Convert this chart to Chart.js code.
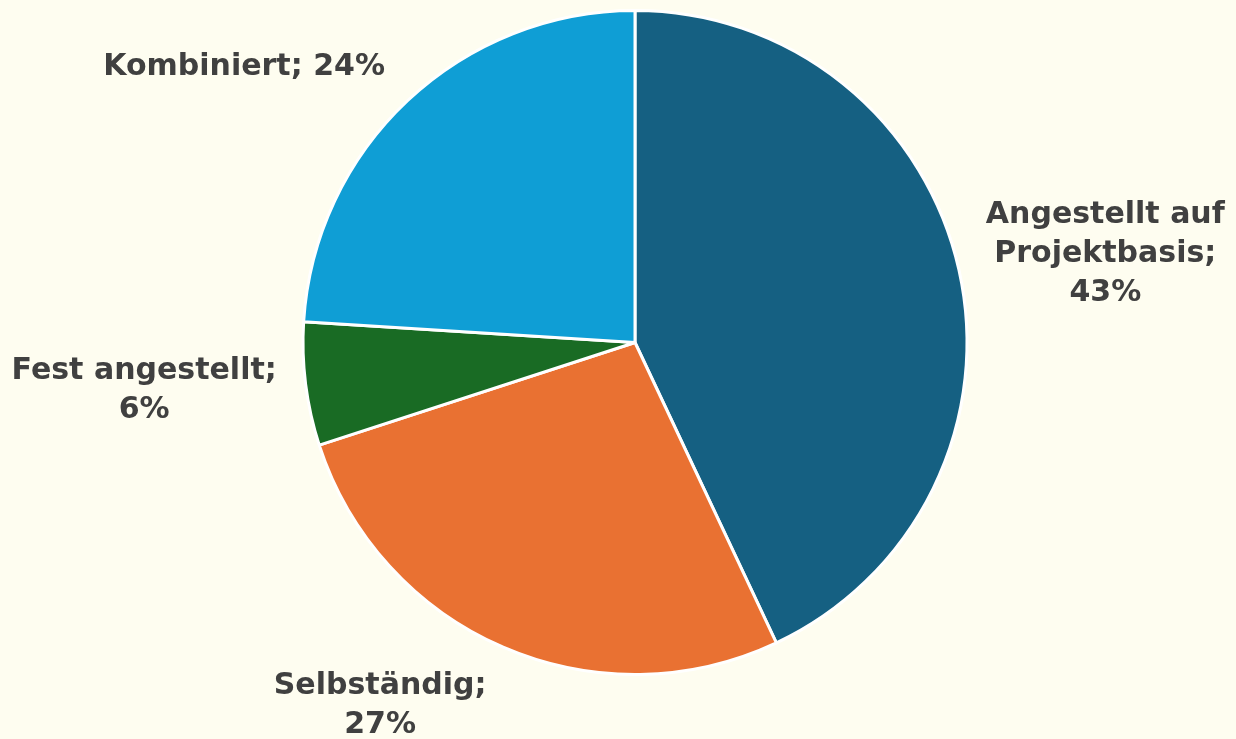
<!DOCTYPE html>
<html>
<head>
<meta charset="utf-8">
<script src="https://cdn.jsdelivr.net/npm/chart.js@4/dist/chart.umd.min.js"></script>
<style>
  html, body { margin: 0; padding: 0; background: #FEFDF0; }
  #wrap { width: 1236px; height: 739px; }
</style>
</head>
<body>
<div id="wrap"><canvas id="pieChart" width="1236" height="739"></canvas></div>
<script>
const categories = ['Angestellt auf Projektbasis', 'Selbständig', 'Fest angestellt', 'Kombiniert'];
const shares = [43, 27, 6, 24];
const sliceColors = ['#156082', '#E97132', '#196B24', '#0F9ED5'];

// how each label breaks into lines (Excel-style wrapping)
const labelLines = [
    ['Angestellt auf', 'Projektbasis;', '43%'],
    ['Selbständig;', '27%'],
    ['Fest angestellt;', '6%'],
    ['Kombiniert; 24%']
];
// small hand nudges on top of the arc-based placement
const labelNudge = [[18, 0], [-76, 12], [-18, 0], [-59, -10]];

const outsideLabels = {
    id: 'outsideLabels',
    afterDatasetsDraw(chart) {
        const ctx = chart.ctx;
        const arcs = chart.getDatasetMeta(0).data;
        const lineH = 39;
        ctx.save();
        ctx.font = "bold 30px 'DejaVu Sans', sans-serif";
        ctx.fillStyle = '#404040';
        ctx.textAlign = 'center';
        ctx.textBaseline = 'middle';
        arcs.forEach((arc, i) => {
            const p = arc.getProps(['x', 'y', 'startAngle', 'endAngle', 'outerRadius'], true);
            const mid = (p.startAngle + p.endAngle) / 2;
            const lines = labelLines[i];
            const w = Math.max(...lines.map(l => ctx.measureText(l).width));
            const h = lines.length * lineH;
            const r = p.outerRadius + 12;
            const cx = p.x + Math.cos(mid) * (r + w / 2) + labelNudge[i][0];
            const cy = p.y + Math.sin(mid) * (r + h / 2) + labelNudge[i][1];
            lines.forEach((l, k) => {
                ctx.fillText(l, cx, cy - h / 2 + lineH * (k + 0.5));
            });
        });
        ctx.restore();
    }
};

new Chart(document.getElementById('pieChart').getContext('2d'), {
    type: 'pie',
    data: {
        labels: categories,
        datasets: [{
            data: shares,
            backgroundColor: sliceColors,
            borderColor: '#FFFFFF',
            borderWidth: 3
        }]
    },
    options: {
        responsive: false,
        animation: false,
        layout: { padding: { top: 9, bottom: 63, left: 34, right: 0 } },
        plugins: {
            legend: { display: false },
            tooltip: { enabled: false }
        }
    },
    plugins: [outsideLabels]
});
</script>
</body>
</html>
